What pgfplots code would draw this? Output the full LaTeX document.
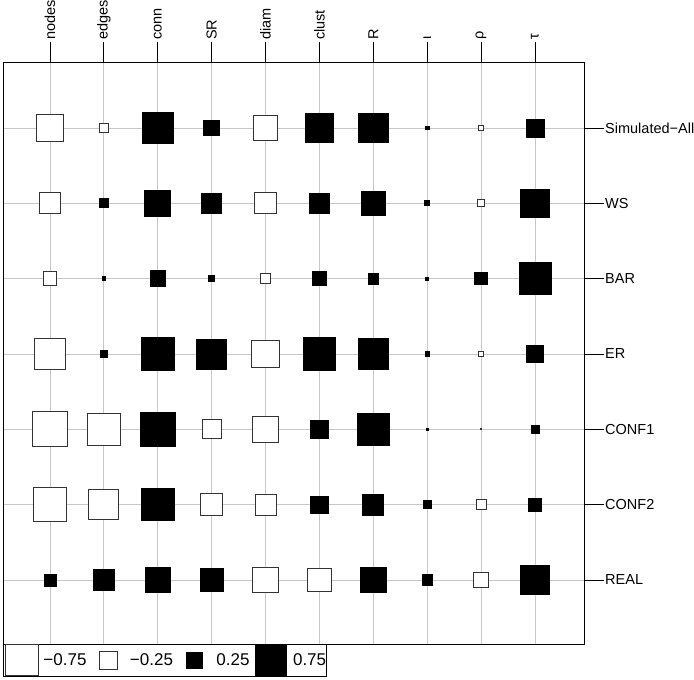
\documentclass[border=0pt]{standalone}
\usepackage{pgfplots}
\pgfplotsset{compat=1.18}
\usepackage{pgfplotstable}
\usepackage{fontspec}
\setmainfont{Liberation Sans}

% x: 1 nodes, 2 edges, 3 conn, 4 SR, 5 diam, 6 clust, 7 R, 8 iota, 9 rho, 10 tau
% y: 1 Simulated-All, 2 WS, 3 BAR, 4 ER, 5 CONF1, 6 CONF2, 7 REAL
\pgfplotstableread{
x y v
3 1 0.74
4 1 0.19
6 1 0.63
7 1 0.66
8 1 0.01
10 1 0.25
2 2 0.06
3 2 0.53
4 2 0.32
6 2 0.29
7 2 0.47
8 2 0.02
10 2 0.63
2 3 0.012
3 3 0.19
4 3 0.03
6 3 0.16
7 3 0.09
8 3 0.007
9 3 0.12
10 3 0.79
2 4 0.04
3 4 0.81
4 4 0.69
6 4 0.82
7 4 0.71
8 4 0.015
10 4 0.21
3 5 0.93
6 5 0.25
7 5 0.76
8 5 0.003
10 5 0.05
3 6 0.81
6 6 0.23
7 6 0.34
8 6 0.05
10 6 0.14
1 7 0.11
2 7 0.36
3 7 0.51
4 7 0.42
7 7 0.49
8 7 0.08
10 7 0.62
}\posdata

\pgfplotstableread{
x y v
1 1 -0.56
2 1 -0.06
5 1 -0.45
9 1 -0.015
1 2 -0.35
5 2 -0.35
9 2 -0.04
1 3 -0.14
5 3 -0.07
1 4 -0.77
5 4 -0.59
9 4 -0.015
1 5 -0.96
2 5 -0.82
4 5 -0.28
5 5 -0.53
9 5 -0.001
1 6 -0.86
2 6 -0.69
4 6 -0.37
5 6 -0.34
9 6 -0.08
5 7 -0.51
6 7 -0.43
9 7 -0.16
}\negdata

\begin{document}
\begin{tikzpicture}
\useasboundingbox (0pt,0pt) rectangle (694pt,680pt);
\begin{axis}[
  at={(3pt,36pt)}, anchor=south west,
  scale only axis, width=581pt, height=581.5pt,
  xmin=0.128, xmax=10.91, ymin=0.131, ymax=7.85, y dir=reverse,
  xtick={1,...,10}, ytick={1,...,7},
  xticklabels={nodes,edges,conn,SR,diam,clust,R,ι,ρ,τ},
  yticklabels={Simulated−All,WS,BAR,ER,CONF1,CONF2,REAL},
  xtick pos=right, ytick pos=right, xticklabel pos=right, yticklabel pos=right,
  tick align=outside, major tick length=20pt,
  tick style={black, line width=0.8pt},
  grid=major, grid style={black!22, line width=0.8pt},
  axis line style={black, line width=0.9pt},
  xticklabel style={rotate=90, anchor=west, font=\fontsize{14.5}{16}\selectfont, inner sep=2.5pt},
  yticklabel style={anchor=west, font=\fontsize{14.5}{16}\selectfont, inner sep=1pt},
  legend style={at={(0,0)}, anchor=north west, legend columns=4,
    draw=black, line width=0.9pt, inner sep=0pt,
    font=\fontsize{17}{19}\selectfont,
    nodes={inner xsep=0pt, inner ysep=1.5pt},
    /tikz/every odd column/.append style={column sep=4pt},
    /tikz/every even column/.append style={column sep=3.5pt}},
]
\addlegendimage{legend image code/.code={\path[draw=none,fill=none] (0pt,0pt) -- (36pt,0pt); \draw[black!80,fill=white,line width=0.9pt] (2pt,-15.5pt) rectangle (35pt,15.5pt);}}
\addlegendentry{−0.75}
\addlegendimage{legend image code/.code={\path[draw=none,fill=none] (0pt,0pt) -- (36pt,0pt); \draw[black!80,fill=white,line width=0.9pt] (9pt,-9pt) rectangle (27pt,9pt);}}
\addlegendentry{−0.25}
\addlegendimage{legend image code/.code={\path[draw=none,fill=none] (0pt,0pt) -- (36pt,0pt); \draw[black,fill=black,line width=0.9pt] (10pt,-8pt) rectangle (26pt,8pt);}}
\addlegendentry{0.25}
\addlegendimage{legend image code/.code={\path[draw=none,fill=none] (0pt,0pt) -- (36pt,0pt); \draw[black,fill=black,line width=0.9pt] (2.5pt,-15.5pt) rectangle (33.5pt,15.5pt);}}
\addlegendentry{0.75}

\addplot[forget plot, scatter, only marks, mark=square*,
  scatter/use mapped color={draw=black, fill=black},
  mark options={line width=0.8pt},
  visualization depends on={18*sqrt(abs(\thisrow{v})) \as \msz},
  scatter/@pre marker code/.append style={/tikz/mark size=\msz pt},
] table[x=x, y=y] {\posdata};
\addplot[forget plot, scatter, only marks, mark=square*,
  scatter/use mapped color={draw=black!80, fill=white},
  mark options={line width=0.9pt},
  visualization depends on={18*sqrt(abs(\thisrow{v})) \as \msz},
  scatter/@pre marker code/.append style={/tikz/mark size=\msz pt},
] table[x=x, y=y] {\negdata};
\end{axis}
\end{tikzpicture}
\end{document}
